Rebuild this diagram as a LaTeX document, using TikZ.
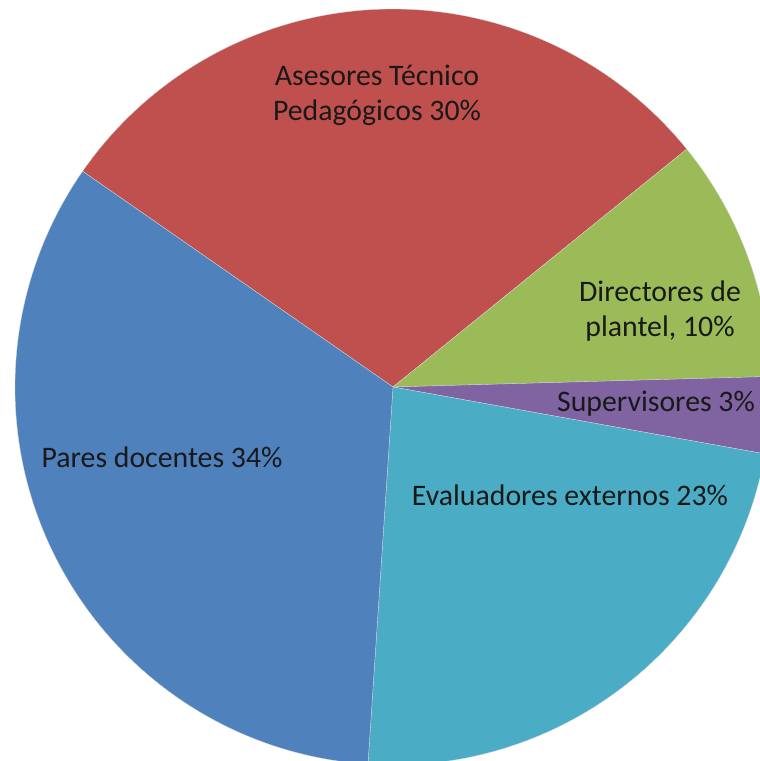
\documentclass[tikz,border=0pt]{standalone}
\usepackage{fontspec}
\setmainfont{Carlito}
\definecolor{asesorred}{HTML}{C0504D}
\definecolor{directgreen}{HTML}{9BBB59}
\definecolor{supervpurple}{HTML}{8064A2}
\definecolor{evalteal}{HTML}{4BACC6}
\definecolor{paresblue}{HTML}{4F81BD}

\begin{document}
\begin{tikzpicture}[x=1pt,y=1pt]
            \useasboundingbox (0,0) rectangle (760,761);
            \clip (0,0) rectangle (760,761);
            \coordinate (O) at (393,374);

            \begin{scope}[draw=white!70!gray, line width=0.3pt]
                \filldraw[fill=asesorred] (O) -- ++(145.2:378) arc[start angle=145.2, end angle=39, radius=378] -- cycle;
                \filldraw[fill=directgreen] (O) -- ++(39:378) arc[start angle=39, end angle=1.6, radius=378] -- cycle;
                \filldraw[fill=supervpurple] (O) -- ++(1.6:378) arc[start angle=1.6, end angle=-10.2, radius=378] -- cycle;
                \filldraw[fill=evalteal] (O) -- ++(-10.2:378) arc[start angle=-10.2, end angle=-93.8, radius=378] -- cycle;
                \filldraw[fill=paresblue] (O) -- ++(-93.8:378) arc[start angle=-93.8, end angle=-214.8, radius=378] -- cycle;
            \end{scope}

            \begin{scope}[every node/.style={align=center, text=black!90, inner sep=0pt,
                          font=\fontsize{29.8}{35}\selectfont}]
                \node (asesores) at (377,666) {Asesores Técnico\\Pedagógicos 30\%};
                \node (directores) at (660,450) {Directores de\\plantel, 10\%};
                \node (supervisores) at (656,357) {Supervisores 3\%};
                \node (pares) at (162,304) {Pares docentes 34\%};
                \node (evaluadores) at (570,266) {Evaluadores externos 23\%};
            \end{scope}
        \end{tikzpicture}
\end{document}
